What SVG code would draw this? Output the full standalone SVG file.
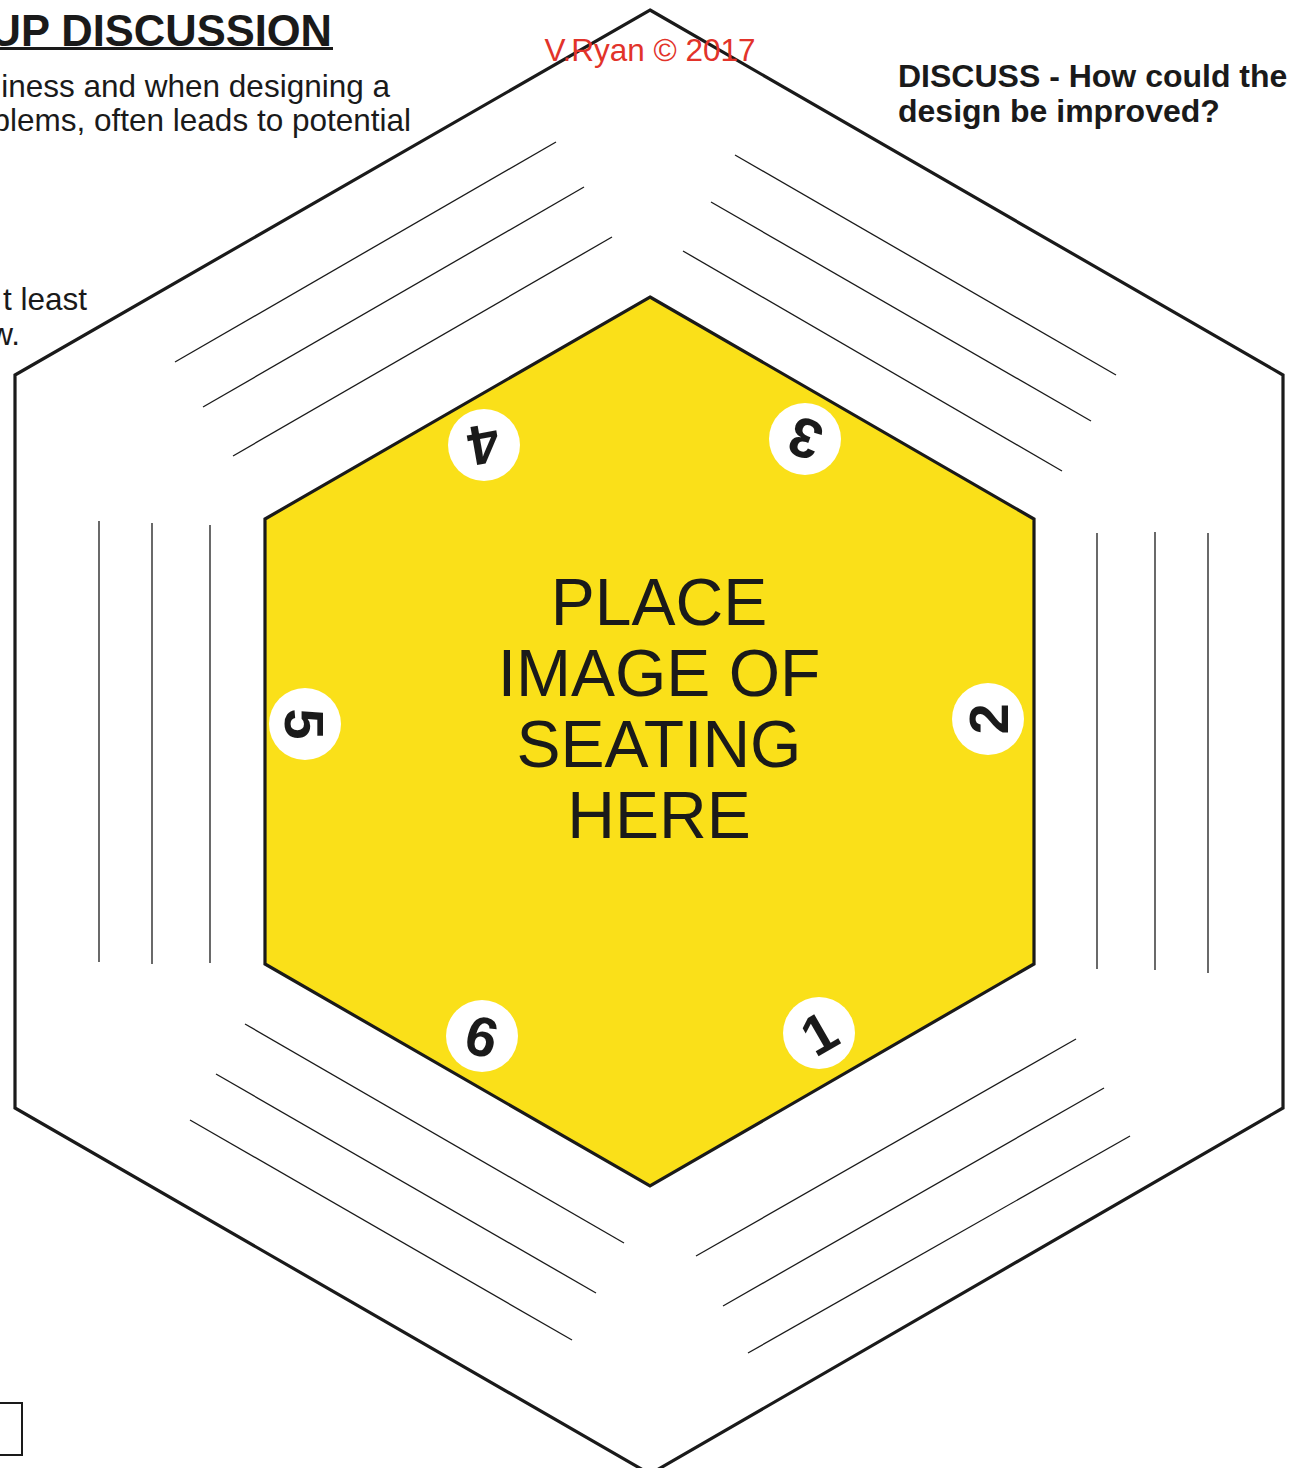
<svg xmlns="http://www.w3.org/2000/svg" width="1294" height="1468" viewBox="0 0 1294 1468">
<style>
.hex{fill:none;stroke:#1a1a1a;stroke-width:3.2;stroke-linejoin:miter}
.table{fill:#FAE019;stroke:#1a1a1a;stroke-width:3.2}
.ln{stroke:#1a1a1a;stroke-width:1.3;fill:none}
.seat{fill:#ffffff}
.num{font-family:"Liberation Sans",Arial,sans-serif;font-weight:bold;font-size:56px;fill:#1a1a1a;text-anchor:middle}
.body{font-family:"Liberation Sans",Arial,sans-serif;font-size:31.5px;fill:#1a1a1a}
.main{font-family:"Liberation Sans",Arial,sans-serif;font-size:66px;fill:#1a1a1a;text-anchor:middle}
.disc{font-family:"Liberation Sans",Arial,sans-serif;font-weight:bold;font-size:32px;fill:#1a1a1a}
</style>
<rect width="1294" height="1468" fill="#ffffff"/>
<g id="outer-hexagon">
<polygon class="hex" points="650,10 1283,375 1283,1108 650,1474 15,1108 15,375"/>
</g>
<g id="writing-lines">
<line class="ln" x1="175" y1="362" x2="556" y2="142"/>
<line class="ln" x1="203" y1="407" x2="584" y2="187"/>
<line class="ln" x1="233" y1="456" x2="612" y2="237"/>
<line class="ln" x1="735" y1="155" x2="1116" y2="375"/>
<line class="ln" x1="711" y1="202" x2="1091" y2="421"/>
<line class="ln" x1="683" y1="251" x2="1062" y2="471"/>
<line class="ln" x1="1097" y1="533" x2="1097" y2="969"/>
<line class="ln" x1="1155" y1="532" x2="1155" y2="970"/>
<line class="ln" x1="1208" y1="533" x2="1208" y2="973"/>
<line class="ln" x1="99" y1="521" x2="99" y2="962"/>
<line class="ln" x1="152" y1="523" x2="152" y2="964"/>
<line class="ln" x1="210" y1="525" x2="210" y2="963"/>
<line class="ln" x1="245" y1="1024" x2="624" y2="1243"/>
<line class="ln" x1="216" y1="1074" x2="596" y2="1293"/>
<line class="ln" x1="190" y1="1120" x2="572" y2="1340"/>
<line class="ln" x1="696" y1="1256" x2="1076" y2="1039"/>
<line class="ln" x1="723" y1="1306" x2="1104" y2="1088"/>
<line class="ln" x1="748" y1="1353" x2="1130" y2="1136"/>
</g>
<g id="table">
<polygon class="table" points="650,297 1034,519 1034,964 650,1186 265,964 265,519"/>
<text class="main" x="659" y="625">PLACE</text>
<text class="main" x="659" y="696">IMAGE OF</text>
<text class="main" x="659" y="767">SEATING</text>
<text class="main" x="659" y="838">HERE</text>
</g>
<g id="seat-1" transform="translate(819,1033)">
<circle class="seat" r="36"/>
<text class="num" y="20" transform="rotate(-30)">1</text>
</g>
<g id="seat-2" transform="translate(988,719)">
<circle class="seat" r="36"/>
<text class="num" y="20" transform="rotate(-90)">2</text>
</g>
<g id="seat-3" transform="translate(805,439)">
<circle class="seat" r="36"/>
<text class="num" y="20" transform="rotate(-160)">3</text>
</g>
<g id="seat-4" transform="translate(484,445)">
<circle class="seat" r="36"/>
<text class="num" y="20" transform="rotate(170)">4</text>
</g>
<g id="seat-5" transform="translate(305,724)">
<circle class="seat" r="36"/>
<text class="num" y="20" transform="rotate(90)">5</text>
</g>
<g id="seat-6" transform="translate(482,1036)">
<circle class="seat" r="36"/>
<text class="num" y="20" transform="rotate(15)">6</text>
</g>
<g id="title">
<text x="332" y="46" text-anchor="end" style="font-family:'Liberation Sans',Arial,sans-serif;font-weight:bold;font-size:43.5px;fill:#1a1a1a">UP DISCUSSION</text>
<rect x="0" y="47" width="333" height="3" fill="#1a1a1a"/>
</g>
<g id="intro-text">
<text class="body" x="390" y="97" text-anchor="end">iness and when designing a</text>
<text class="body" x="411" y="131" text-anchor="end">blems, often leads to potential</text>
<text class="body" x="87" y="310" text-anchor="end">t least</text>
<text class="body" x="20" y="345" text-anchor="end">w.</text>
</g>
<g id="credit">
<text x="650" y="61" text-anchor="middle" style="font-family:'Liberation Sans',Arial,sans-serif;font-size:31.5px;fill:#e2332a">V.Ryan © 2017</text>
</g>
<g id="discuss">
<text class="disc" x="898" y="87">DISCUSS - How could the</text>
<text class="disc" x="898" y="122">design be improved?</text>
</g>
<g id="box">
<rect x="-10" y="1403" width="32" height="52" fill="none" stroke="#1a1a1a" stroke-width="2"/>
</g>
</svg>
